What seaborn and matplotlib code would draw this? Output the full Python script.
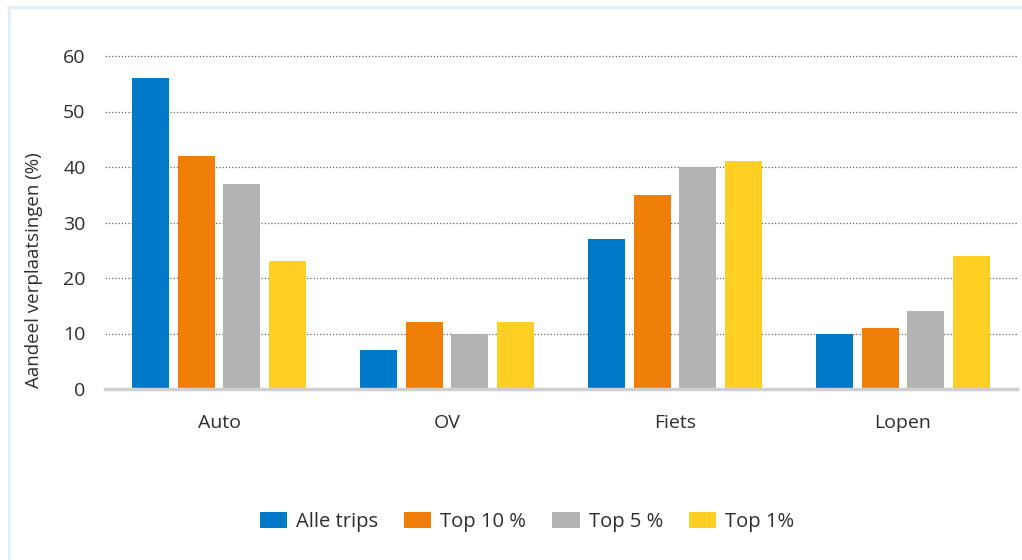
import matplotlib
matplotlib.use("Agg")
import matplotlib.pyplot as plt
from matplotlib.lines import Line2D
import seaborn as sns
import pandas as pd

# Vervoerwijzen en aandeel verplaatsingen per groep (%)
modes = ["Auto", "OV", "Fiets", "Lopen"]
groups = ["Alle trips", "Top 10 %", "Top 5 %", "Top 1%"]
alle_trips = [56, 7, 27, 10]
top_10 = [42, 12, 35, 11]
top_5 = [37, 10, 40, 14]
top_1 = [23, 12, 41, 24]
colors = ["#0079C8", "#EF7F09", "#B3B3B3", "#FFCF24"]
y_ticks = [0, 10, 20, 30, 40, 50, 60]

rows = []
for g, vals in zip(groups, [alle_trips, top_10, top_5, top_1]):
    for m, v in zip(modes, vals):
        rows.append({"Vervoerwijze": m, "Groep": g, "Aandeel": v})
df = pd.DataFrame(rows)

sns.set_theme(style="white")
plt.rcParams["font.family"] = ["Open Sans", "DejaVu Sans"]
text_color = "#2E2E2E"

fig = plt.figure(figsize=(10.22, 5.6), dpi=100)
ax = fig.add_axes([105 / 1022, 1 - 389 / 560, (1017 - 105) / 1022, (389 - 56) / 560])

sns.barplot(data=df, x="Vervoerwijze", y="Aandeel", hue="Groep",
            order=modes, hue_order=groups, palette=colors,
            width=0.8, gap=0.19, saturation=1, errorbar=None,
            linewidth=0, ax=ax, zorder=3)

ax.set_xlim(-0.5, 3.5)
ax.set_ylim(0, 60)
ax.set_yticks(y_ticks)
ax.set_yticklabels([str(t) for t in y_ticks])
for y in y_ticks[1:]:
    ax.axhline(y, color="#666666", lw=0.9, ls=(0, (1, 1.6)), zorder=1, clip_on=False)

for side in ["top", "right", "left"]:
    ax.spines[side].set_visible(False)
ax.spines["bottom"].set_color("#CFCFCF")
ax.spines["bottom"].set_linewidth(2.5)
ax.spines["bottom"].set_zorder(4)

ax.tick_params(axis="y", length=0, pad=14, labelsize=14, labelcolor=text_color)
ax.tick_params(axis="x", length=0, pad=18, labelsize=14, labelcolor=text_color)
ax.set_xlabel("")
ax.set_ylabel("Aandeel verplaatsingen (%)", fontsize=13.5, color=text_color)
ax.yaxis.set_label_coords(-62 / 912, (389 - 270) / 333)

handles, labels = ax.get_legend_handles_labels()
ax.get_legend().remove()
fig.legend(handles, labels, loc="center", bbox_to_anchor=(527 / 1022, 1 - 522 / 560),
           ncol=4, frameon=False, fontsize=14.5, handlelength=1.35, handleheight=0.8,
           handletextpad=0.45, columnspacing=1.3, labelcolor=text_color)

# lichtblauw kader
frame_color = "#DDEEF8"
fig.add_artist(Line2D([9 / 1022, 9 / 1022], [0, 1 - 7 / 560], color=frame_color, lw=2.2,
                      transform=fig.transFigure))
fig.add_artist(Line2D([8 / 1022, 1], [1 - 7 / 560, 1 - 7 / 560], color=frame_color, lw=2.2,
                      transform=fig.transFigure))

fig.savefig("out.png", dpi=100, facecolor="white")
